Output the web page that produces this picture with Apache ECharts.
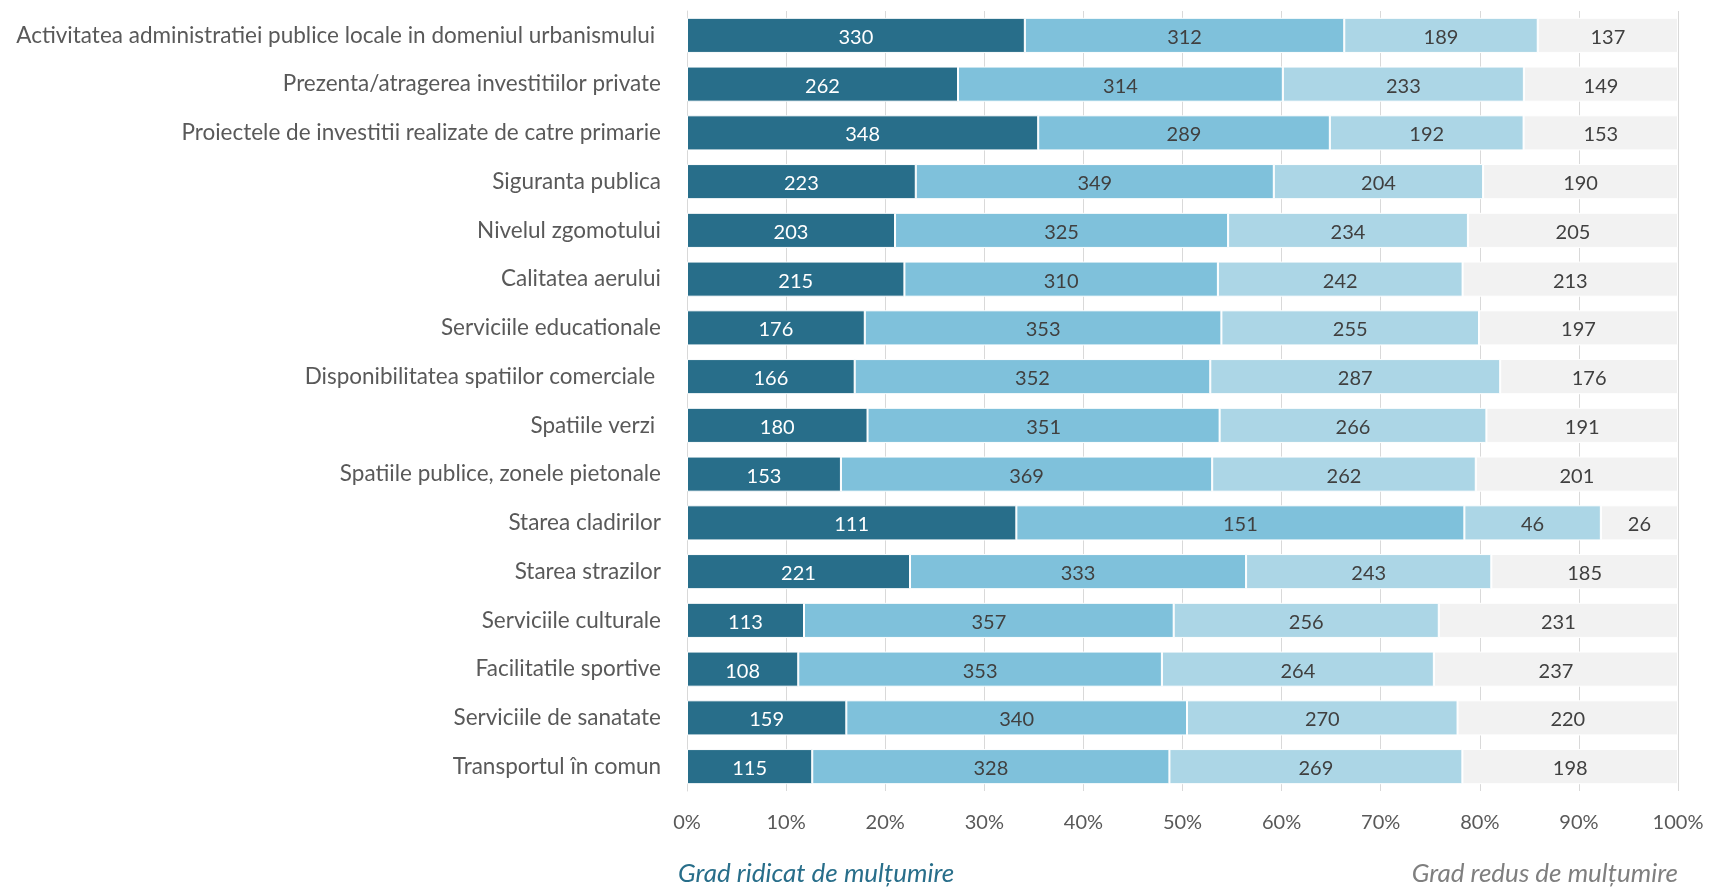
<!DOCTYPE html>
<html lang="ro">
<head>
<meta charset="UTF-8">
<title>Grad de multumire</title>
<style>
  html, body { margin: 0; padding: 0; background: #fff; }
  #chart { width: 1711px; height: 889px; }
</style>
</head>
<body>
<div id="chart"></div>
<script src="https://cdn.jsdelivr.net/npm/echarts@6/dist/echarts.min.js"></script>
<script>
// categorii (de sus in jos)
var categories = [
  'Activitatea administratiei publice locale in domeniul urbanismului ',
  'Prezenta/atragerea investitiilor private',
  'Proiectele de investitii realizate de catre primarie',
  'Siguranta publica',
  'Nivelul zgomotului',
  'Calitatea aerului',
  'Serviciile educationale',
  'Disponibilitatea spatiilor comerciale ',
  'Spatiile verzi ',
  'Spatiile publice, zonele pietonale',
  'Starea cladirilor',
  'Starea strazilor',
  'Serviciile culturale',
  'Facilitatile sportive',
  'Serviciile de sanatate',
  'Transportul în comun'
];
// numar de raspunsuri pe nivel de multumire
var nivel1 = [330, 262, 348, 223, 203, 215, 176, 166, 180, 153, 111, 221, 113, 108, 159, 115];
var nivel2 = [312, 314, 289, 349, 325, 310, 353, 352, 351, 369, 151, 333, 357, 353, 340, 328];
var nivel3 = [189, 233, 192, 204, 234, 242, 255, 287, 266, 262, 46, 243, 256, 264, 270, 269];
var nivel4 = [137, 149, 153, 190, 205, 213, 197, 176, 191, 201, 26, 185, 231, 237, 220, 198];

var colors = ['#286e8a', '#7fc1db', '#acd6e6', '#f2f2f2'];
var labelColors = ['#ffffff', '#404040', '#404040', '#404040'];
var font = 'Lato, "Open Sans", sans-serif';

var totals = categories.map(function (c, i) {
  return nivel1[i] + nivel2[i] + nivel3[i] + nivel4[i];
});

function makeSeries(arr, k) {
  return {
    type: 'bar',
    stack: 'total',
    barCategoryGap: '28%',
    data: arr.map(function (v, i) {
      return { value: v / totals[i] * 100, raw: v };
    }),
    itemStyle: { color: colors[k], borderColor: '#ffffff', borderWidth: 1 },
    label: {
      show: true,
      position: 'inside',
      color: labelColors[k],
      fontFamily: font,
      fontSize: 20,
      offset: [0, 2],
      formatter: function (p) { return p.data.raw; }
    }
  };
}

var myChart = echarts.init(document.getElementById('chart'));
var option = {
  animation: false,
  grid: { left: 687, right: 33, top: 11, bottom: 98, containLabel: false },
  xAxis: {
    type: 'value',
    min: 0,
    max: 100,
    interval: 10,
    axisLine: { show: false },
    axisTick: { show: false },
    splitLine: { show: true, lineStyle: { color: '#d9d9d9', width: 1 } },
    axisLabel: {
      formatter: '{value}%',
      color: '#595959',
      fontFamily: font,
      fontSize: 20,
      margin: 22
    }
  },
  yAxis: {
    type: 'category',
    inverse: true,
    data: categories,
    axisLine: { show: true, lineStyle: { color: '#d9d9d9', width: 1 } },
    axisTick: { show: false },
    axisLabel: {
      color: '#595959',
      fontFamily: font,
      fontSize: 22.5,
      margin: 26
    }
  },
  series: [
    makeSeries(nivel1, 0),
    makeSeries(nivel2, 1),
    makeSeries(nivel3, 2),
    makeSeries(nivel4, 3)
  ],
  graphic: [
    {
      type: 'text',
      left: 678,
      top: 861,
      style: {
        text: 'Grad ridicat de mulțumire',
        fill: '#286e8a',
        font: 'italic 26px ' + font
      }
    },
    {
      type: 'text',
      right: 33,
      top: 861,
      style: {
        text: 'Grad redus de mulțumire',
        fill: '#7f7f7f',
        font: 'italic 26px ' + font
      }
    }
  ]
};
myChart.setOption(option);
</script>
</body>
</html>
